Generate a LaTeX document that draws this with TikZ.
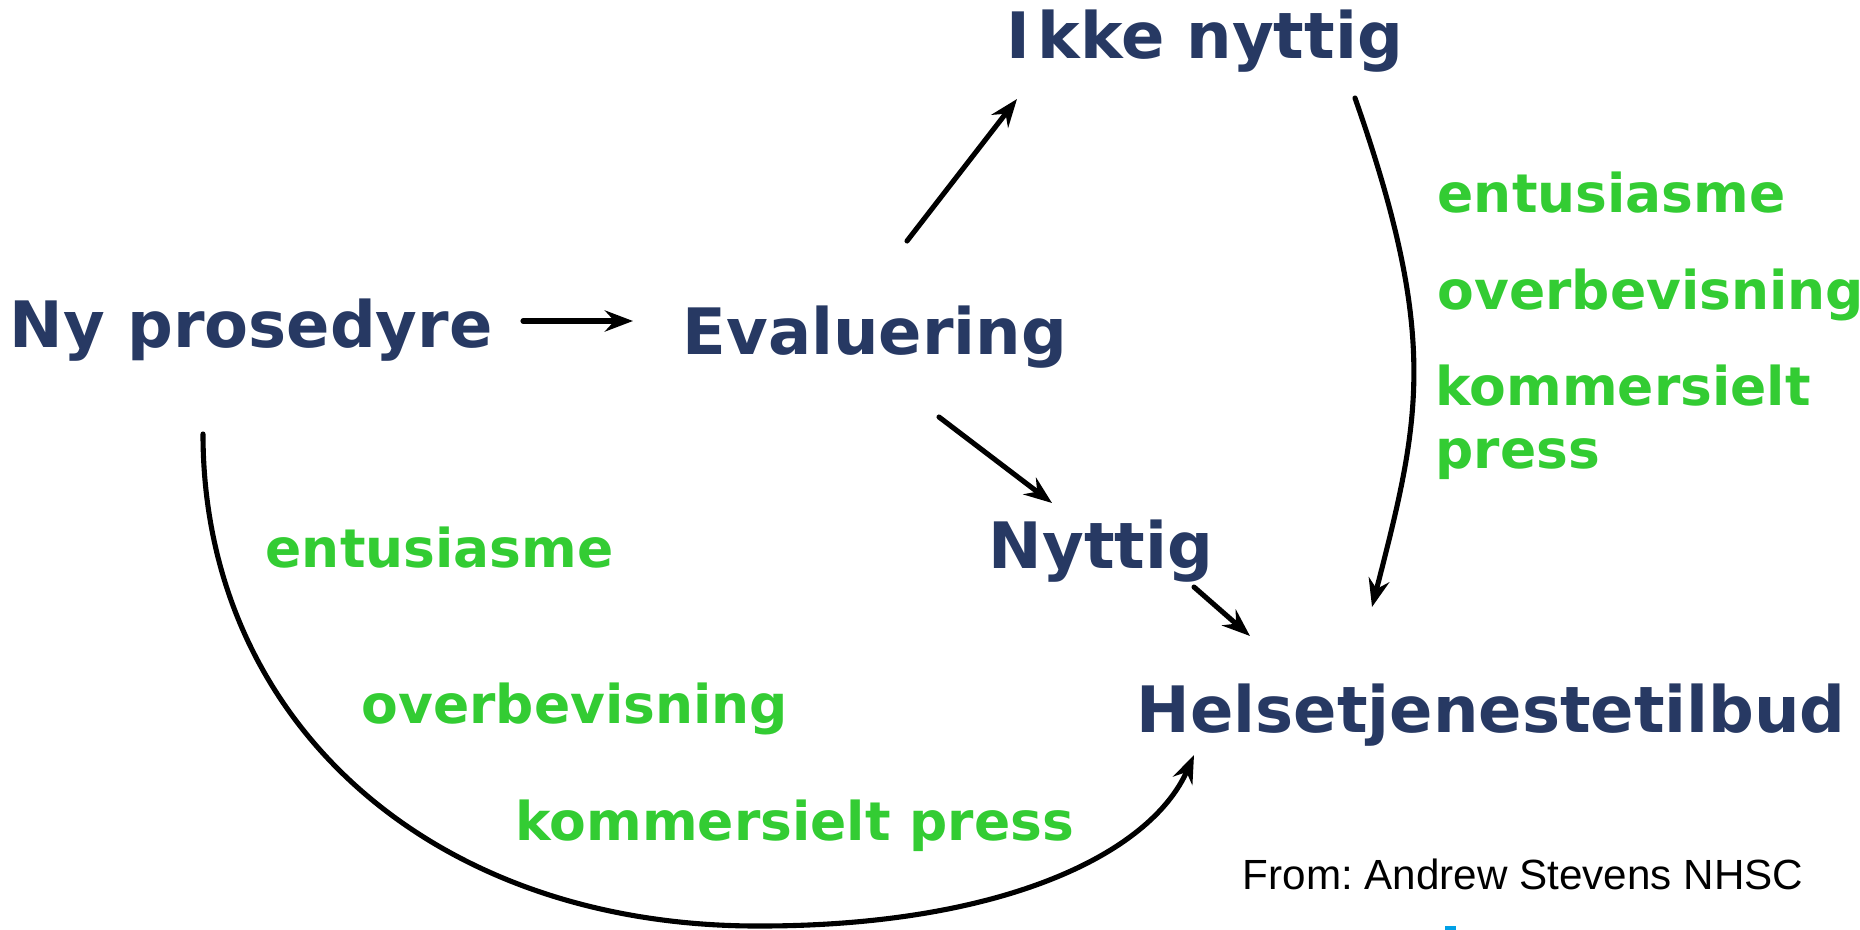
\documentclass[tikz,border=0pt]{standalone}
\usepackage{fontspec}
\newfontfamily\djv{DejaVu Sans}
\newfontfamily\lib{Liberation Sans}
\usetikzlibrary{arrows.meta}
\frenchspacing
\definecolor{navy}{RGB}{39,57,99}
\definecolor{lgreen}{RGB}{51,204,51}
\definecolor{tickblue}{RGB}{0,160,230}
\tikzset{
  mainlbl/.style={inner sep=0pt, anchor=base west, text=navy, font=\djv\bfseries\fontsize{18.2pt}{20pt}\selectfont},
  factor/.style={inner sep=0pt, anchor=base west, text=lgreen, font=\djv\bfseries\fontsize{15.2pt}{18pt}\selectfont},
  credit/.style={inner sep=0pt, anchor=base west, font=\lib\frenchspacing\fontsize{12pt}{14pt}\selectfont},
  conn/.style={line width=1.45pt, line cap=round, -{Stealth[length=8pt,width=6pt,inset=2.7pt]}}
}
\begin{document}
\begin{tikzpicture}[x=0.01cm,y=-0.01cm]
\useasboundingbox (0,0) rectangle (1860,930);
% main labels
\node[mainlbl] (np) at (9,347) {Ny prosedyre};
\node[mainlbl] (ev) at (682,354) {Evaluering};
\node[mainlbl] (ik) at (1006,58) {I\kern2pt kke nyttig};
\node[mainlbl] (ny) at (988,568) {Nyttig};
\node[mainlbl] (he) at (1136,732) {Helsetjenestetilbud};
% factors (right)
\node[factor] (r1) at (1437,212) {entusiasme};
\node[factor] (r2) at (1437,309) {overbevisning};
\node[factor] (r3) at (1435,405) {kommersielt};
\node[factor] (r4) at (1435,468) {press};
% factors (left)
\node[factor] (l1) at (265,567) {entusiasme};
\node[factor] (l2) at (361,723) {overbevisning};
\node[factor] (l3) at (515,840) {kommersielt press};
% credit
\node[credit] (src) at (1242,889) {From: Andrew Stevens NHSC};
% connector end points
\coordinate (a1s) at (523,321);  \coordinate (a1e) at (633,321);
\coordinate (a2s) at (907,241);  \coordinate (a2e) at (1017,99);
\coordinate (a3s) at (939,417);  \coordinate (a3e) at (1052,503);
\coordinate (a4s) at (1194,587); \coordinate (a4e) at (1250,636);
\coordinate (c1s) at (1355,98);  \coordinate (c1e) at (1372,607);
\coordinate (c2s) at (203,434);  \coordinate (c2m) at (760,926); \coordinate (c2e) at (1194,755);
% connectors
\draw[conn] (a1s) -- (a1e);
\draw[conn] (a2s) -- (a2e);
\draw[conn] (a3s) -- (a3e);
\draw[conn] (a4s) -- (a4e);
\draw[conn] (c1s) .. controls (1440,340) and (1420,420) .. (c1e);
\draw[conn] (c2s) .. controls (203,720) and (430,927) .. (c2m)
               .. controls (1000,926) and (1150,855) .. (c2e);
% small cut-off mark at the bottom edge
\fill[tickblue] (1445,926) rectangle (1456,930);
\end{tikzpicture}
\end{document}
